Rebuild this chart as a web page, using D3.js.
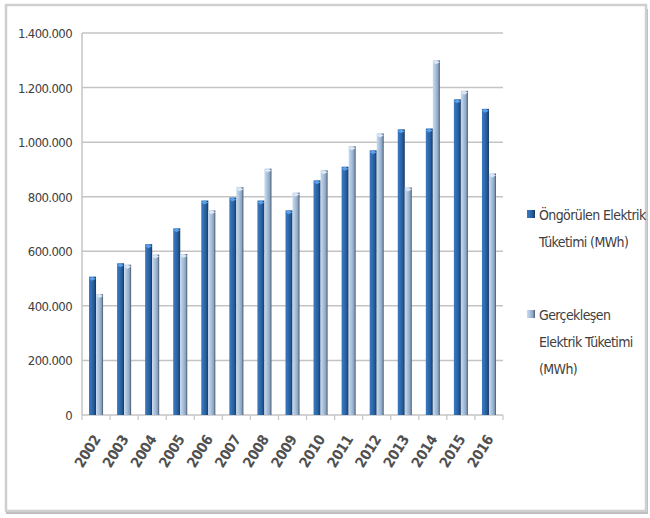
<!DOCTYPE html>
<html>
<head>
<meta charset="utf-8">
<script src="https://cdn.jsdelivr.net/npm/d3@7"></script>
<style>
  body { margin: 0; background: #fff; }
  text { font-family: "DejaVu Sans", sans-serif; font-stretch: condensed; fill: #404040; }
</style>
</head>
<body>
<svg id="chart" width="650" height="518"></svg>
<script>
// data
var years = ["2002","2003","2004","2005","2006","2007","2008","2009","2010","2011","2012","2013","2014","2015","2016"];
var ongorulen = [507000,556000,626000,684000,786000,797000,786000,750000,860000,910000,970000,1047000,1050000,1157000,1122000];
var gerceklesen = [443000,551000,588000,590000,750000,835000,903000,815000,897000,985000,1032000,834000,1300000,1188000,885000];
var yTicks = [0,200000,400000,600000,800000,1000000,1200000,1400000];
var seriesNames = [["Öngörülen Elektrik","Tüketimi (MWh)"],["Gerçekleşen","Elektrik Tüketimi","(MWh)"]];

var svg = d3.select("#chart");

// frame
svg.append("rect").attr("x",6).attr("y",9).attr("width",642).attr("height",505)
   .attr("fill","#bdbdbd");
svg.append("rect").attr("x",6).attr("y",5).attr("width",640).attr("height",506)
   .attr("fill","#fff").attr("stroke","#cfcfcf").attr("stroke-width",2.5);

var defs = svg.append("defs");
function grad(id, stops){
  var g = defs.append("linearGradient").attr("id",id).attr("x1","0").attr("x2","1").attr("y1","0").attr("y2","0");
  stops.forEach(function(s){ g.append("stop").attr("offset",s[0]).attr("stop-color",s[1]); });
}
grad("gDark", [[0,"#3a78c0"],[0.35,"#2f6db3"],[0.7,"#255a96"],[1,"#17345a"]]);
grad("gLight", [[0,"#c9dbee"],[0.4,"#a7c1de"],[0.75,"#8aa4c2"],[1,"#4a5462"]]);

var pLeft = 82, pRight = 503, pTop = 33, pBottom = 415;

var x = d3.scaleBand().domain(years).range([pLeft,pRight]).paddingInner(0.5).paddingOuter(0.25);
var xs = d3.scaleBand().domain([0,1]).range([0,x.bandwidth()]);
var y = d3.scaleLinear().domain([0,1400000]).range([pBottom,pTop]);

var fmt = function(v){ return v===0 ? "0" : d3.format(",")(v).replace(/,/g,"."); };

// gridlines
svg.append("g").selectAll("line").data(yTicks).join("line")
   .attr("x1",pLeft).attr("x2",pRight)
   .attr("y1",function(d){return y(d);}).attr("y2",function(d){return y(d);})
   .attr("stroke","#c4c4c4").attr("stroke-width",1.5);

// y axis line
svg.append("line").attr("x1",pLeft).attr("x2",pLeft).attr("y1",pTop).attr("y2",pBottom)
   .attr("stroke","#c4c4c4").attr("stroke-width",1.5);

svg.append("g").selectAll("text").data(yTicks).join("text")
   .attr("x",72).attr("y",function(d){return y(d)+5;})
   .attr("text-anchor","end").attr("font-size",13)
   .attr("letter-spacing",-0.6)
   .text(fmt);

// x ticks
var edges = years.map(function(d){ return x(d) - x.step()*x.paddingInner()/2; });
edges.push(pRight);
svg.append("g").selectAll("line").data(edges).join("line")
   .attr("x1",function(d){return d;}).attr("x2",function(d){return d;})
   .attr("y1",pBottom).attr("y2",pBottom+5)
   .attr("stroke","#c4c4c4").attr("stroke-width",1.2);

// bars
var series = [ongorulen, gerceklesen];
var fills = ["url(#gDark)","url(#gLight)"];
var tops = ["#5aa0e8","#dbe8f5"];
series.forEach(function(vals, si){
  var g = svg.append("g");
  g.selectAll("rect").data(vals).join("rect")
   .attr("x",function(d,i){return x(years[i]) + xs(si);})
   .attr("y",function(d){return y(d);})
   .attr("width",xs.bandwidth())
   .attr("height",function(d){return pBottom - y(d);})
   .attr("fill",fills[si]);
  g.selectAll("path").data(vals).join("path")
   .attr("d",function(d,i){
     var x0 = x(years[i]) + xs(si), w = xs.bandwidth(), y0 = y(d);
     return "M"+x0+","+(y0+2)+"L"+(x0+w*0.45)+","+y0+"L"+(x0+w)+","+(y0+2)+"L"+(x0+w*0.45)+","+(y0+4)+"Z";
   })
   .attr("fill",tops[si]);
});

// x labels
svg.append("g").selectAll("text").data(years).join("text")
   .attr("transform",function(d){ return "translate("+(x(d)+x.bandwidth()/2+5)+","+(pBottom+24)+") rotate(-58)"; })
   .attr("text-anchor","end").attr("font-size",14.5).attr("font-weight","bold")
   .attr("letter-spacing",-0.3).style("fill","#505050")
   .text(function(d){return d;});

// legend
var legY = [220, 320];
seriesNames.forEach(function(lines, si){
  svg.append("rect").attr("x",527).attr("y",legY[si]-10).attr("width",8).attr("height",8)
     .attr("fill",fills[si]);
  lines.forEach(function(t, li){
    svg.append("text").attr("x",539).attr("y",legY[si]+li*27)
       .attr("font-size",14).attr("letter-spacing",-0.6).text(t);
  });
});
</script>
</body>
</html>
